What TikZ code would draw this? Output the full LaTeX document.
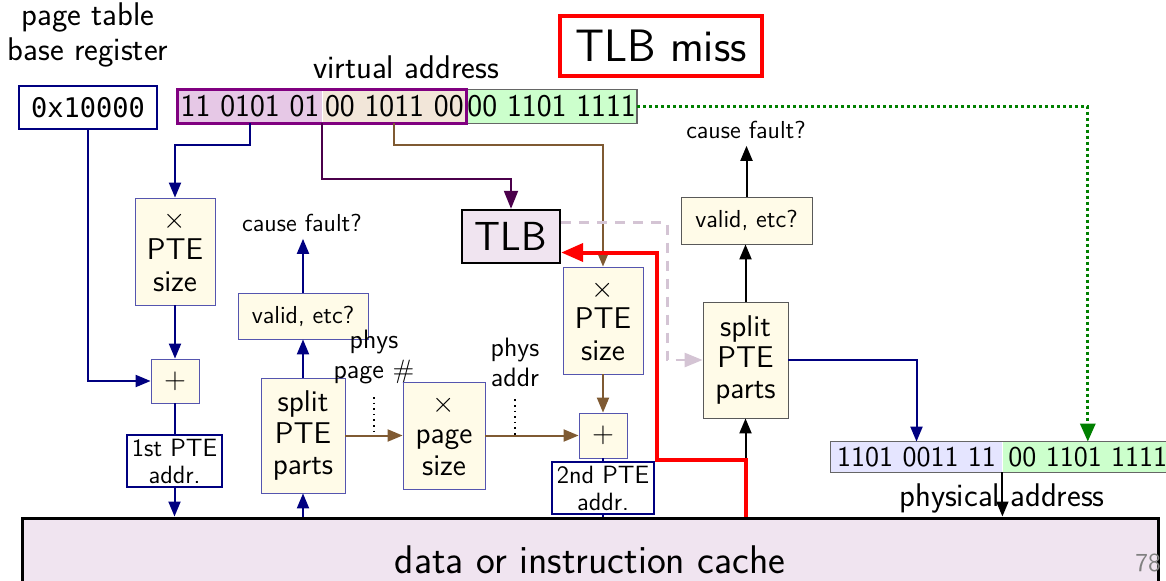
\documentclass[tikz,border=0pt]{standalone}
\usepackage{fontspec}
\newfontfamily\codefont{DejaVu Sans Mono}
\usetikzlibrary{arrows.meta,positioning,calc}

\definecolor{navy}{RGB}{0,0,128}
\definecolor{boxedge}{RGB}{85,85,175}
\definecolor{cream}{RGB}{255,251,232}
\definecolor{vpnfill}{RGB}{230,200,230}
\definecolor{vpnedge}{RGB}{128,0,128}
\definecolor{tanfill}{RGB}{242,230,217}
\definecolor{greenfill}{RGB}{204,255,204}
\definecolor{ppnfill}{RGB}{229,229,255}
\definecolor{lav}{RGB}{240,228,240}
\definecolor{tlbpurple}{RGB}{75,0,75}
\definecolor{brownline}{RGB}{127,90,50}
\definecolor{dashgray}{RGB}{212,196,212}
\definecolor{dkgreen}{RGB}{0,128,0}

\begin{document}
\begin{tikzpicture}[x=0.5pt,y=-0.5pt,
    font=\sffamily\fontsize{16.4}{17.5}\selectfont,
    pbox/.style={draw=boxedge,fill=cream,align=center,inner sep=0pt,font=\sffamily\fontsize{15}{15.7}\selectfont},
    addrbox/.style={draw=navy,fill=white,line width=1pt,align=center,inner sep=0pt,font=\sffamily\fontsize{12.5}{13.5}\selectfont},
    bits/.style={inner sep=0pt,minimum height=16.5pt,font=\sffamily\fontsize{15.8}{16}\selectfont},
    smalltext/.style={font=\sffamily\fontsize{12.3}{14}\selectfont},
    lbl/.style={align=center,font=\sffamily\fontsize{13.3}{15}\selectfont},
    arrow/.style={-{Triangle[length=7.5pt,width=6pt]}},
    navyline/.style={navy,line width=1pt},
    blackline/.style={black,line width=1pt}]
    \clip (0,0) rectangle (1166,580);

    % registers and addresses
    \node[align=center] (ptbrlbl) at (88,35) {page table\\base register};
    \node[draw=navy,line width=1.2pt,minimum width=69pt,minimum height=21.5pt,inner sep=0pt,font=\codefont\fontsize{13.5}{15}\selectfont] (ptbr) at (88,107.5) {0x10000};
    \node (valbl) at (406,67) {virtual address};
    \node[bits,fill=vpnfill,minimum width=72pt] (vpn1) at (250,106.5) {11 0101 01};
    \node[bits,fill=tanfill,minimum width=71.5pt,right=0pt of vpn1] (vpn2) {00 1011 00};
    \node[bits,fill=greenfill,minimum width=85pt,right=0pt of vpn2] (vpo) {00 1101 1111};
    \draw[gray!80!black,line width=0.6pt] (vpn1.north west) rectangle (vpo.south east);
    \draw[vpnedge,line width=1.5pt] (vpn1.north west) rectangle (vpn2.south east);
    \node[draw=red,line width=2pt,minimum width=101pt,minimum height=30pt,font=\sffamily\fontsize{22.7}{24}\selectfont] (miss) at (661,46) {TLB miss};

    % first level
    \node[pbox,minimum width=40pt,minimum height=53.5pt] (pte1) at (175,251.5) {$\times$\\PTE\\size};
    \node[pbox,minimum width=24pt,minimum height=22pt] (add1) at (175,381) {$+$};
    \node[addrbox,minimum width=47.5pt,minimum height=26pt] (addr1) at (174.5,461) {1st PTE\\addr.};
    \node[smalltext] (fault1) at (302,223) {cause fault?};
    \node[pbox,smalltext,minimum width=65pt,minimum height=23pt] (valid1) at (303,316) {valid, etc?};
    \node[pbox,minimum width=42pt,minimum height=57.5pt] (split1) at (303,435.5) {split\\PTE\\parts};
    \node[lbl] (physpg) at (374,357) {phys\\page \#};
    \node[pbox,minimum width=41pt,minimum height=53.5pt] (pgsize) at (444,435.5) {$\times$\\page\\size};
    \node[lbl] (physad) at (515,362) {phys\\addr};

    % second level
    \node[pbox,minimum width=40pt,minimum height=53.5pt] (pte2) at (603,320.5) {$\times$\\PTE\\size};
    \node[pbox,minimum width=24pt,minimum height=22.5pt] (add2) at (603,435.5) {$+$};
    \node[addrbox,minimum width=51pt,minimum height=26pt] (addr2) at (603,488) {2nd PTE\\addr.};
    \node[draw,line width=1.2pt,fill=lav,minimum width=49pt,minimum height=26.5pt,font=\sffamily\fontsize{20.3}{22}\selectfont] (tlb) at (511,236.5) {TLB};
    \node[pbox,draw=gray!70!black,minimum width=42.5pt,minimum height=58pt] (split2) at (745.5,360) {split\\PTE\\parts};
    \node[pbox,smalltext,draw=gray!70!black,minimum width=65.5pt,minimum height=23.5pt] (valid2) at (746.5,220.5) {valid, etc?};
    \node[smalltext] (fault2) at (746,130) {cause fault?};

    % physical address and cache
    \node[bits,fill=ppnfill,minimum width=85.5pt,minimum height=15pt,font=\sffamily\fontsize{14.3}{16}\selectfont] (ppn) at (916.5,457) {1101 0011 11};
    \node[bits,fill=greenfill,minimum width=85pt,minimum height=15pt,font=\sffamily\fontsize{14.3}{16}\selectfont,right=0pt of ppn] (ppo) {00 1101 1111};
    \draw[gray!80!black,line width=0.6pt] (ppn.north west) rectangle (ppo.south east);
    \node (physlbl) at (1002,498) {physical address};
    \node[draw,line width=1.5pt,fill=lav,minimum width=568pt,minimum height=42pt,font=\sffamily\fontsize{20}{22}\selectfont] (cache) at (590,560) {data or instruction cache};
    \node[text=gray,font=\sffamily\fontsize{13}{15}\selectfont] (pgnum) at (1148,563) {78};

    % connectors
    \draw[navyline,arrow] (vpn1.south) -- ++(0,22) -| (pte1.north);
    \draw[navyline,arrow] (ptbr.south) |- (add1.west);
    \draw[navyline,arrow] (pte1) -- (add1);
    \draw[navyline] (add1.south) -- (add1.south |- addr1.north);
    \draw[navyline,arrow] (addr1.south) -- (addr1.south |- cache.north);
    \draw[navyline,arrow] (split1.south |- cache.north) -- (split1.south);
    \draw[navyline,arrow] (split1) -- (valid1);
    \draw[navyline,arrow] (valid1.north) -- (valid1.north |- fault1.south);
    \draw[tlbpurple,line width=1pt,-{Triangle[length=9pt,width=7pt]}] (vpn1.south east) -- ++(0,56) -| (tlb.north);
    \draw[brownline,line width=1pt,arrow] (vpn2.south) -- ++(0,22) -| (pte2.north);
    \draw[brownline,line width=1pt,arrow] (pte2) -- (add2);
    \draw[brownline,line width=1pt,arrow] (split1.east) -- (pgsize.west);
    \draw[brownline,line width=1pt,arrow] (pgsize.east) -- (add2.west);
    \draw[navy,line width=0.8pt] (add2) -- (addr2);
    \draw[navy,line width=0.8pt] (addr2.south) -- (addr2.south |- cache.north);
    \draw[dotted,thick] ([yshift=-3pt]physpg.south) -- (physpg.south |- split1.east);
    \draw[dotted,thick] ([yshift=-3pt]physad.south) -- (physad.south |- split1.east);
    \draw[dkgreen,line width=1.5pt,dash pattern=on 1.5pt off 1.5pt,-{Triangle[length=9pt,width=7.5pt]}] (vpo.east) -| (ppo.north);
    \draw[dashgray,line width=1.3pt,dash pattern=on 5pt off 4pt,-{Triangle[length=9pt,width=7pt]}] ([yshift=7pt]tlb.east) -- ++(106,0) |- (split2.west);
    \draw[blackline,arrow] (split2.south |- cache.north) -- (split2.south);
    \draw[red,line width=2pt,-{Triangle[length=11pt,width=9pt]}] (split2.south |- cache.north) |- ++(-89,-57) |- ([yshift=-8pt]tlb.east);
    \draw[blackline,arrow] (split2.north) -- (split2.north |- valid2.south);
    \draw[blackline,arrow] (valid2.north) -- (valid2.north |- fault2.south);
    \draw[navyline,arrow] (split2.east) -| (ppn.north);
    \draw[blackline,arrow] (ppn.south east) -- (ppn.south east |- cache.north);
\end{tikzpicture}
\end{document}
